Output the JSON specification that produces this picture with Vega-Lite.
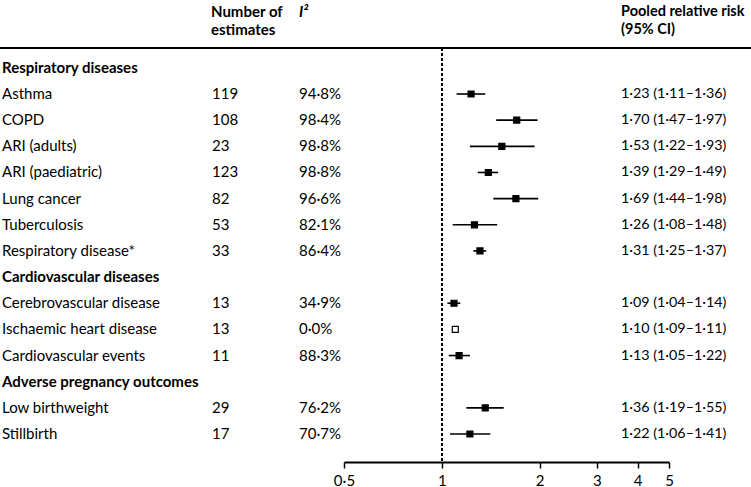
{
  "$schema": "https://vega.github.io/schema/vega-lite/v6.json",
  "width": 751,
  "height": 462,
  "autosize": {"type": "none"},
  "padding": {"left": 0, "top": 0, "right": 0, "bottom": 25},
  "background": "white",
  "config": {
    "view": {"stroke": null},
    "font": "Lato",
    "text": {"fontSize": 15, "color": "black", "baseline": "middle", "align": "left"}
  },
  "datasets": {
    "rows": [
      {"k": 0, "label": "Respiratory diseases", "kind": "group"},
      {"k": 1, "label": "Asthma", "kind": "outcome", "n": 119, "i2": "94·8%", "rr": 1.23, "lo": 1.11, "hi": 1.36, "ci": "1·23 (1·11–1·36)", "marker": "filled"},
      {"k": 2, "label": "COPD", "kind": "outcome", "n": 108, "i2": "98·4%", "rr": 1.70, "lo": 1.47, "hi": 1.97, "ci": "1·70 (1·47–1·97)", "marker": "filled"},
      {"k": 3, "label": "ARI (adults)", "kind": "outcome", "n": 23, "i2": "98·8%", "rr": 1.53, "lo": 1.22, "hi": 1.93, "ci": "1·53 (1·22–1·93)", "marker": "filled"},
      {"k": 4, "label": "ARI (paediatric)", "kind": "outcome", "n": 123, "i2": "98·8%", "rr": 1.39, "lo": 1.29, "hi": 1.49, "ci": "1·39 (1·29–1·49)", "marker": "filled"},
      {"k": 5, "label": "Lung cancer", "kind": "outcome", "n": 82, "i2": "96·6%", "rr": 1.69, "lo": 1.44, "hi": 1.98, "ci": "1·69 (1·44–1·98)", "marker": "filled"},
      {"k": 6, "label": "Tuberculosis", "kind": "outcome", "n": 53, "i2": "82·1%", "rr": 1.26, "lo": 1.08, "hi": 1.48, "ci": "1·26 (1·08–1·48)", "marker": "filled"},
      {"k": 7, "label": "Respiratory disease*", "kind": "outcome", "n": 33, "i2": "86·4%", "rr": 1.31, "lo": 1.25, "hi": 1.37, "ci": "1·31 (1·25–1·37)", "marker": "filled"},
      {"k": 8, "label": "Cardiovascular diseases", "kind": "group"},
      {"k": 9, "label": "Cerebrovascular disease", "kind": "outcome", "n": 13, "i2": "34·9%", "rr": 1.09, "lo": 1.04, "hi": 1.14, "ci": "1·09 (1·04–1·14)", "marker": "filled"},
      {"k": 10, "label": "Ischaemic heart disease", "kind": "outcome", "n": 13, "i2": "0·0%", "rr": 1.10, "lo": 1.09, "hi": 1.11, "ci": "1·10 (1·09–1·11)", "marker": "open"},
      {"k": 11, "label": "Cardiovascular events", "kind": "outcome", "n": 11, "i2": "88·3%", "rr": 1.13, "lo": 1.05, "hi": 1.22, "ci": "1·13 (1·05–1·22)", "marker": "filled"},
      {"k": 12, "label": "Adverse pregnancy outcomes", "kind": "group"},
      {"k": 13, "label": "Low birthweight", "kind": "outcome", "n": 29, "i2": "76·2%", "rr": 1.36, "lo": 1.19, "hi": 1.55, "ci": "1·36 (1·19–1·55)", "marker": "filled"},
      {"k": 14, "label": "Stillbirth", "kind": "outcome", "n": 17, "i2": "70·7%", "rr": 1.22, "lo": 1.06, "hi": 1.41, "ci": "1·22 (1·06–1·41)", "marker": "filled"}
    ]
  },
  "data": {"name": "rows"},
  "layer": [
    {
      "mark": {"type": "rule", "color": "black", "strokeWidth": 2},
      "encoding": {
        "y": {"datum": -0.76, "type": "quantitative", "scale": {"domain": [-2.595, 15.07], "reverse": true, "nice": false, "zero": false}, "axis": null}
      }
    },
    {
      "mark": {"type": "rule", "color": "black", "strokeWidth": 1.6, "strokeDash": [3, 2]},
      "encoding": {
        "x": {"datum": 1, "type": "quantitative", "scale": {"type": "log", "domain": [0.5, 5], "range": [344, 669], "nice": false}, "axis": {"values": [0.5, 1, 2, 3, 4, 5], "labelExpr": "replace(datum.label, '.', '·')", "title": null, "grid": false, "domainColor": "black", "domainWidth": 2, "tickColor": "black", "tickWidth": 1.5, "tickSize": 6, "labelFontSize": 15, "labelColor": "black", "labelPadding": 5, "labelFlush": false, "labelFont": "Lato"}},
        "y": {"datum": -0.76, "type": "quantitative", "scale": {"domain": [-2.595, 15.07], "reverse": true, "nice": false, "zero": false}, "axis": null},
        "y2": {"datum": 15.07}
      }
    },
    {
      "transform": [{"filter": "datum.kind === 'outcome'"}],
      "mark": {"type": "rule", "color": "black", "strokeWidth": 1.6},
      "encoding": {
        "x": {"field": "lo", "type": "quantitative", "scale": {"type": "log", "domain": [0.5, 5], "range": [344, 669], "nice": false}, "axis": {"values": [0.5, 1, 2, 3, 4, 5], "labelExpr": "replace(datum.label, '.', '·')", "title": null, "grid": false, "domainColor": "black", "domainWidth": 2, "tickColor": "black", "tickWidth": 1.5, "tickSize": 6, "labelFontSize": 15, "labelColor": "black", "labelPadding": 5, "labelFlush": false, "labelFont": "Lato"}},
        "x2": {"field": "hi"},
        "y": {"field": "k", "type": "quantitative", "scale": {"domain": [-2.595, 15.07], "reverse": true, "nice": false, "zero": false}, "axis": null}
      }
    },
    {
      "transform": [{"filter": "datum.kind === 'outcome'"}],
      "mark": {"type": "point", "shape": "square", "size": 36, "stroke": "black", "strokeWidth": 1.2, "opacity": 1},
      "encoding": {
        "x": {"field": "rr", "type": "quantitative", "scale": {"type": "log", "domain": [0.5, 5], "range": [344, 669], "nice": false}, "axis": {"values": [0.5, 1, 2, 3, 4, 5], "labelExpr": "replace(datum.label, '.', '·')", "title": null, "grid": false, "domainColor": "black", "domainWidth": 2, "tickColor": "black", "tickWidth": 1.5, "tickSize": 6, "labelFontSize": 15, "labelColor": "black", "labelPadding": 5, "labelFlush": false, "labelFont": "Lato"}},
        "y": {"field": "k", "type": "quantitative", "scale": {"domain": [-2.595, 15.07], "reverse": true, "nice": false, "zero": false}, "axis": null},
        "fill": {"field": "marker", "type": "nominal", "scale": {"domain": ["filled", "open"], "range": ["black", "white"]}, "legend": null}
      }
    },
    {
      "transform": [{"filter": "datum.kind === 'group'"}],
      "mark": {"type": "text", "fontWeight": "bold"},
      "encoding": {
        "x": {"value": 2},
        "y": {"field": "k", "type": "quantitative", "scale": {"domain": [-2.595, 15.07], "reverse": true, "nice": false, "zero": false}, "axis": null},
        "text": {"field": "label"}
      }
    },
    {
      "transform": [{"filter": "datum.kind === 'outcome'"}],
      "mark": {"type": "text"},
      "encoding": {
        "x": {"value": 2},
        "y": {"field": "k", "type": "quantitative", "scale": {"domain": [-2.595, 15.07], "reverse": true, "nice": false, "zero": false}, "axis": null},
        "text": {"field": "label"}
      }
    },
    {
      "transform": [{"filter": "datum.kind === 'outcome'"}],
      "mark": {"type": "text"},
      "encoding": {
        "x": {"value": 212},
        "y": {"field": "k", "type": "quantitative", "scale": {"domain": [-2.595, 15.07], "reverse": true, "nice": false, "zero": false}, "axis": null},
        "text": {"field": "n", "type": "nominal"}
      }
    },
    {
      "transform": [{"filter": "datum.kind === 'outcome'"}],
      "mark": {"type": "text"},
      "encoding": {
        "x": {"value": 299},
        "y": {"field": "k", "type": "quantitative", "scale": {"domain": [-2.595, 15.07], "reverse": true, "nice": false, "zero": false}, "axis": null},
        "text": {"field": "i2"}
      }
    },
    {
      "transform": [{"filter": "datum.kind === 'outcome'"}],
      "mark": {"type": "text", "fontSize": 14.3},
      "encoding": {
        "x": {"value": 621},
        "y": {"field": "k", "type": "quantitative", "scale": {"domain": [-2.595, 15.07], "reverse": true, "nice": false, "zero": false}, "axis": null},
        "text": {"field": "ci"}
      }
    },
    {
      "data": {"values": [{"head": ["Number of", "estimates"]}]},
      "mark": {"type": "text", "fontWeight": "bold", "lineHeight": 18},
      "encoding": {
        "x": {"value": 211},
        "y": {"datum": -2.136, "type": "quantitative", "scale": {"domain": [-2.595, 15.07], "reverse": true, "nice": false, "zero": false}, "axis": null},
        "text": {"field": "head"}
      }
    },
    {
      "data": {"values": [{"head": ["Pooled relative risk", "(95% CI)"]}]},
      "mark": {"type": "text", "fontWeight": "bold", "lineHeight": 18, "fontSize": 14.5},
      "encoding": {
        "x": {"value": 621},
        "y": {"datum": -2.136, "type": "quantitative", "scale": {"domain": [-2.595, 15.07], "reverse": true, "nice": false, "zero": false}, "axis": null},
        "text": {"field": "head"}
      }
    },
    {
      "data": {"values": [{"head": "I²"}]},
      "mark": {"type": "text", "fontWeight": "bold", "fontStyle": "italic"},
      "encoding": {
        "x": {"value": 299},
        "y": {"datum": -2.136, "type": "quantitative", "scale": {"domain": [-2.595, 15.07], "reverse": true, "nice": false, "zero": false}, "axis": null},
        "text": {"field": "head"}
      }
    }
  ]
}
